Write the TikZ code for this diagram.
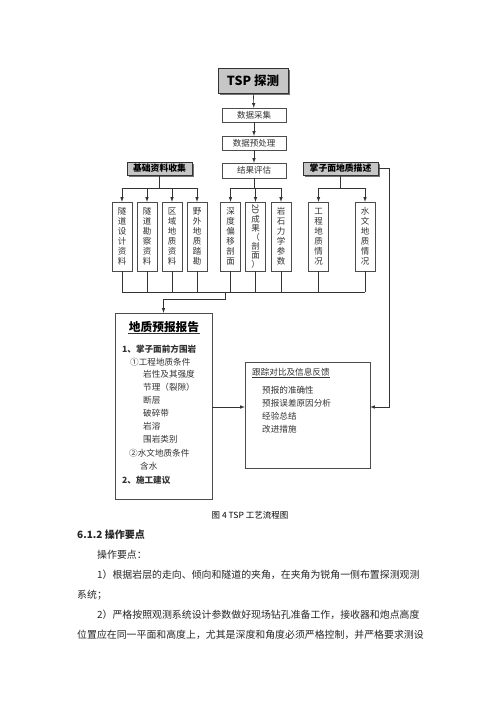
\documentclass[tikz,border=0pt]{standalone}
\usepackage{fontspec}
\newfontfamily\cjk{Noto Sans CJK SC}
\usepackage{graphicx}
\usetikzlibrary{shadows}
\usetikzlibrary{arrows}
\usetikzlibrary{calc}

\begin{document}
\begin{tikzpicture}
  [x=1pt,y=-1pt,>=latex,
  headbox/.style={draw=black!80,fill=gray!45,thick,inner sep=0pt,font=\cjk\bfseries\fontsize{8.8}{10}\selectfont,
    drop shadow={shadow xshift=1.5pt,shadow yshift=-1.5pt,fill=black!55,opacity=1}},
  stepbox/.style={draw=black!70,fill=white,inner sep=0pt,minimum width=64pt,minimum height=14pt,
    font=\cjk\fontsize{8.5}{10}\selectfont,text=black!80},
  colbox/.style={draw=black!70,fill=white,inner sep=0pt,minimum width=20pt,minimum height=69pt,
    text width=10pt,align=center,font=\cjk\fontsize{8.5}{10}\selectfont,text=black!80},
  bigbox/.style={draw=black!70,fill=white,inner sep=0pt},
  txt/.style={anchor=west,inner sep=0pt,font=\cjk\fontsize{8.6}{10}\selectfont,text=black!80},
  body/.style={anchor=west,inner sep=0pt,font=\cjk\fontsize{9.9}{12}\selectfont,text=black!85},
  line/.style={draw=black!80,line width=0.6pt},
  arr/.style={line,->}]
  \useasboundingbox[fill=white] (0,0) rectangle (500,707);

  % main chain
  \node[headbox,minimum width=70pt,minimum height=25pt,font=\cjk\bfseries\fontsize{12.5}{14}\selectfont] (tsp) at (253,80.5) {TSP 探测};
  \node[stepbox] (cj) at (254,115) {数据采集};
  \node[stepbox] (yc) at (254,143) {数据预处理};
  \node[stepbox,minimum height=15pt] (pg) at (254,170.5) {结果评估};
  \node[headbox,minimum width=65pt,minimum height=13pt] (jc) at (159.5,168.5) {基础资料收集};
  \node[headbox,minimum width=75pt,minimum height=13pt] (zm) at (340.5,168.5) {掌子面地质描述};

  % column boxes
  \node[colbox] (b1) at (122,236.5) {隧\\道\\设\\计\\资\\料};
  \node[colbox] (b2) at (147,236.5) {隧\\道\\勘\\察\\资\\料};
  \node[colbox] (b3) at (172,236.5) {区\\域\\地\\质\\资\\料};
  \node[colbox] (b4) at (197,236.5) {野\\外\\地\\质\\踏\\勘};
  \node[colbox] (b5) at (230.5,236.5) {深\\度\\偏\\移\\剖\\面};
  \node[colbox,font=\cjk\fontsize{8.5}{9}\selectfont] (b6) at (255.5,236.5) {\rotatebox{-90}{2D}\\成\\果\\（\\剖\\面\\）};
  \node[colbox] (b7) at (281,236.5) {岩\\石\\力\\学\\参\\数};
  \node[colbox] (b8) at (318.5,236.5) {工\\程\\地\\质\\情\\况};
  \node[colbox] (b9) at (365,236.5) {水\\文\\地\\质\\情\\况};

  % report boxes
  \node[bigbox,minimum width=97pt,minimum height=186pt] (rep) at (163.5,406) {};
  \node[bigbox,minimum width=125pt,minimum height=106pt] (gz) at (307.5,415) {};

  \node[inner sep=1pt,font=\cjk\bfseries\fontsize{11.7}{13}\selectfont] (rt) at (164,327) {地质预报报告};
  \draw[line,line width=0.8pt] (rt.south west) -- (rt.south east);
  \foreach \n/\x/\y/\t in {r1/122/349/{\bfseries 1、掌子面前方围岩},r2/130/362/{①工程地质条件},
    r3/143/374/{岩性及其强度},r4/143/387/{节理（裂隙）},r5/143/400/{断层},r6/143/413/{破碎带},
    r7/143/426/{岩溶},r8/143/439/{围岩类别},r9/129/453/{②水文地质条件},r10/140/466/{含水},
    r11/122/480/{\bfseries 2、施工建议}}
    \node[txt] (\n) at (\x,\y) {\t};

  \node[txt] (gt) at (252,373) {\underline{跟踪对比及信息反馈}};
  \foreach \n/\y/\t in {g1/390/{预报的准确性},g2/403/{预报误差原因分析},g3/416/{经验总结},g4/429/{改进措施}}
    \node[txt] (\n) at (262,\y) {\t};

  % connectors
  \draw[arr] (tsp) -- (cj);
  \draw[arr] (cj) -- (yc);
  \draw[arr] (yc) -- (pg);

  \coordinate (topbus) at (0,188);
  \coordinate (botbus) at (0,292);
  \draw[line] (jc.south) -- (jc.south |- topbus);
  \draw[line] (pg.south) -- (pg.south |- topbus);
  \draw[line] (zm.south) -- (zm.south |- topbus);
  \draw[line] (b1.north |- topbus) -- (b4.north |- topbus);
  \draw[line] (b5.north |- topbus) -- (b7.north |- topbus);
  \draw[line] (b8.north |- topbus) -- (b9.north |- topbus);
  \foreach \b in {b1,b2,b3,b4,b5,b6,b7,b8,b9}{
    \draw[arr] (\b.north |- topbus) -- (\b.north);
    \draw[line] (\b.south) -- (\b.south |- botbus);
  }
  \draw[line] (b1.south |- botbus) -- (b9.south |- botbus);

  \coordinate (tap) at (225,292);
  \coordinate (turn) at (225,299);
  \draw[arr] (tap) -- (turn) -| (rep.north);

  \coordinate (back) at (389,407);
  \draw[arr] (zm.east) -| (back) -- (back -| gz.east);
  \draw[arr] (rep.east |- back) -- (back -| gz.west);

  % caption and text below
  \node[inner sep=0pt,font=\cjk\fontsize{8.5}{10}\selectfont] (cap) at (250,515) {图 4 TSP 工艺流程图};
  \node[body,font=\cjk\bfseries\fontsize{10}{12}\selectfont] (t1) at (77,535) {6.1.2 操作要点};
  \node[body] (t2) at (97,555) {操作要点：};
  \node[body] (t3) at (97,575) {1）根据岩层的走向、倾向和隧道的夹角，在夹角为锐角一侧布置探测观测};
  \node[body] (t4) at (77,595) {系统；};
  \node[body] (t5) at (97,615) {2）严格按照观测系统设计参数做好现场钻孔准备工作，接收器和炮点高度};
  \node[body] (t6) at (77,635) {位置应在同一平面和高度上，尤其是深度和角度必须严格控制，并严格要求测设};
\end{tikzpicture}
\end{document}
